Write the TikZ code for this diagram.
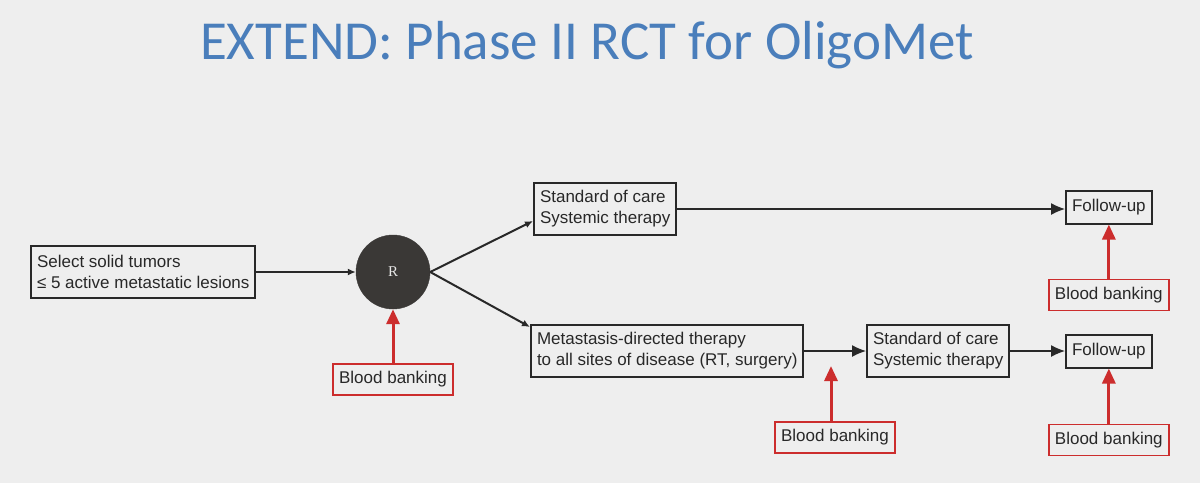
\documentclass[tikz,border=0pt]{standalone}
\usepackage{fontspec}
\setmainfont{Liberation Sans}
\newfontfamily\titlefont{Carlito}
\newfontfamily\rfont{Liberation Serif}
\usetikzlibrary{positioning,arrows.meta}

\definecolor{slidebg}{RGB}{238,238,238}
\definecolor{titleblue}{RGB}{74,126,187}
\definecolor{boxline}{RGB}{40,40,40}
\definecolor{bankred}{RGB}{204,45,45}
\definecolor{randgray}{RGB}{58,56,54}

\begin{document}
\begin{tikzpicture}
		[
			x=1pt, y=-1pt,
			textbox/.style={draw=boxline, line width=2pt, rectangle, align=left, text=boxline, font=\fontsize{17}{21}\selectfont, inner xsep=6pt, inner ysep=2pt, minimum height=52pt},
			smallbox/.style={draw=boxline, line width=2pt, rectangle, text=boxline, font=\fontsize{17}{21}\selectfont, inner xsep=6pt, inner ysep=2pt, minimum height=33pt},
			bankbox/.style={draw=bankred, line width=1.6pt, rectangle, text=boxline, font=\fontsize{17}{21}\selectfont, inner xsep=6pt, inner ysep=2pt, minimum height=31pt},
			randnode/.style={circle, fill=randgray, draw=randgray, minimum size=74pt, inner sep=0pt, text=white!90!black, font=\rfont\fontsize{15}{18}\selectfont},
			flow/.style={draw=boxline, line width=2pt, -{Latex[length=8pt,width=7pt]}},
			longflow/.style={draw=boxline, line width=1.2pt, -{Latex[length=14pt,width=12pt]}},
			bankarrow/.style={draw=bankred, line width=3pt, -{Triangle[length=15pt,width=13pt]}}
		]

		\fill[slidebg] (0,0) rectangle (1200,483);
		\useasboundingbox (0,0) rectangle (1200,483);

		\node (title) at (587,45) {\titlefont\fontsize{55}{60}\selectfont\color{titleblue}EXTEND: Phase II RCT for OligoMet};

		\node (select) [textbox, anchor=west] at (30,272) {Select solid tumors\\≤ 5 active metastatic lesions};
		\node (rand) [randnode] at (393,272) {R};
		\node (soctop) [textbox, anchor=west] at (533,209) {Standard of care\\Systemic therapy};
		\node (mdt) [textbox, anchor=west] at (530,351) {Metastasis-directed therapy\\to all sites of disease (RT, surgery)};
		\node (socbot) [textbox, anchor=west] at (866,351) {Standard of care\\Systemic therapy};
		\node (fuptop) [smallbox, anchor=west] at (1065,207) {Follow-up};
		\node (fupbot) [smallbox, anchor=west] at (1065,351) {Follow-up};

		\node (bankrand) [bankbox, below=54pt of rand] {Blood banking};
		\node (bankfup) [bankbox, below=54pt of fuptop] {Blood banking};
		\node (bankmid) [bankbox] at (835,437.5) {Blood banking};
		\node (bankend) [bankbox, below=55pt of fupbot] {Blood banking};
		\coordinate (midtip) at (831,366);

		\draw[flow] (select.east) -- (rand.west);
		\draw[flow] (rand.east) -- ([yshift=-12pt]soctop.west);
		\draw[flow] (rand.east) -- ([yshift=-3pt]mdt.north west);
		\draw[longflow] (soctop.east) -- (soctop.east -| fuptop.west);
		\draw[longflow] (mdt.east) -- (socbot.west);
		\draw[longflow] (socbot.east) -- (fupbot.west);

		\draw[bankarrow] (bankrand) -- (rand);
		\draw[bankarrow] (bankfup) -- (fuptop);
		\draw[bankarrow] (bankmid.north -| midtip) -- (midtip);
		\draw[bankarrow] (bankend) -- (fupbot);
	\end{tikzpicture}
\end{document}
